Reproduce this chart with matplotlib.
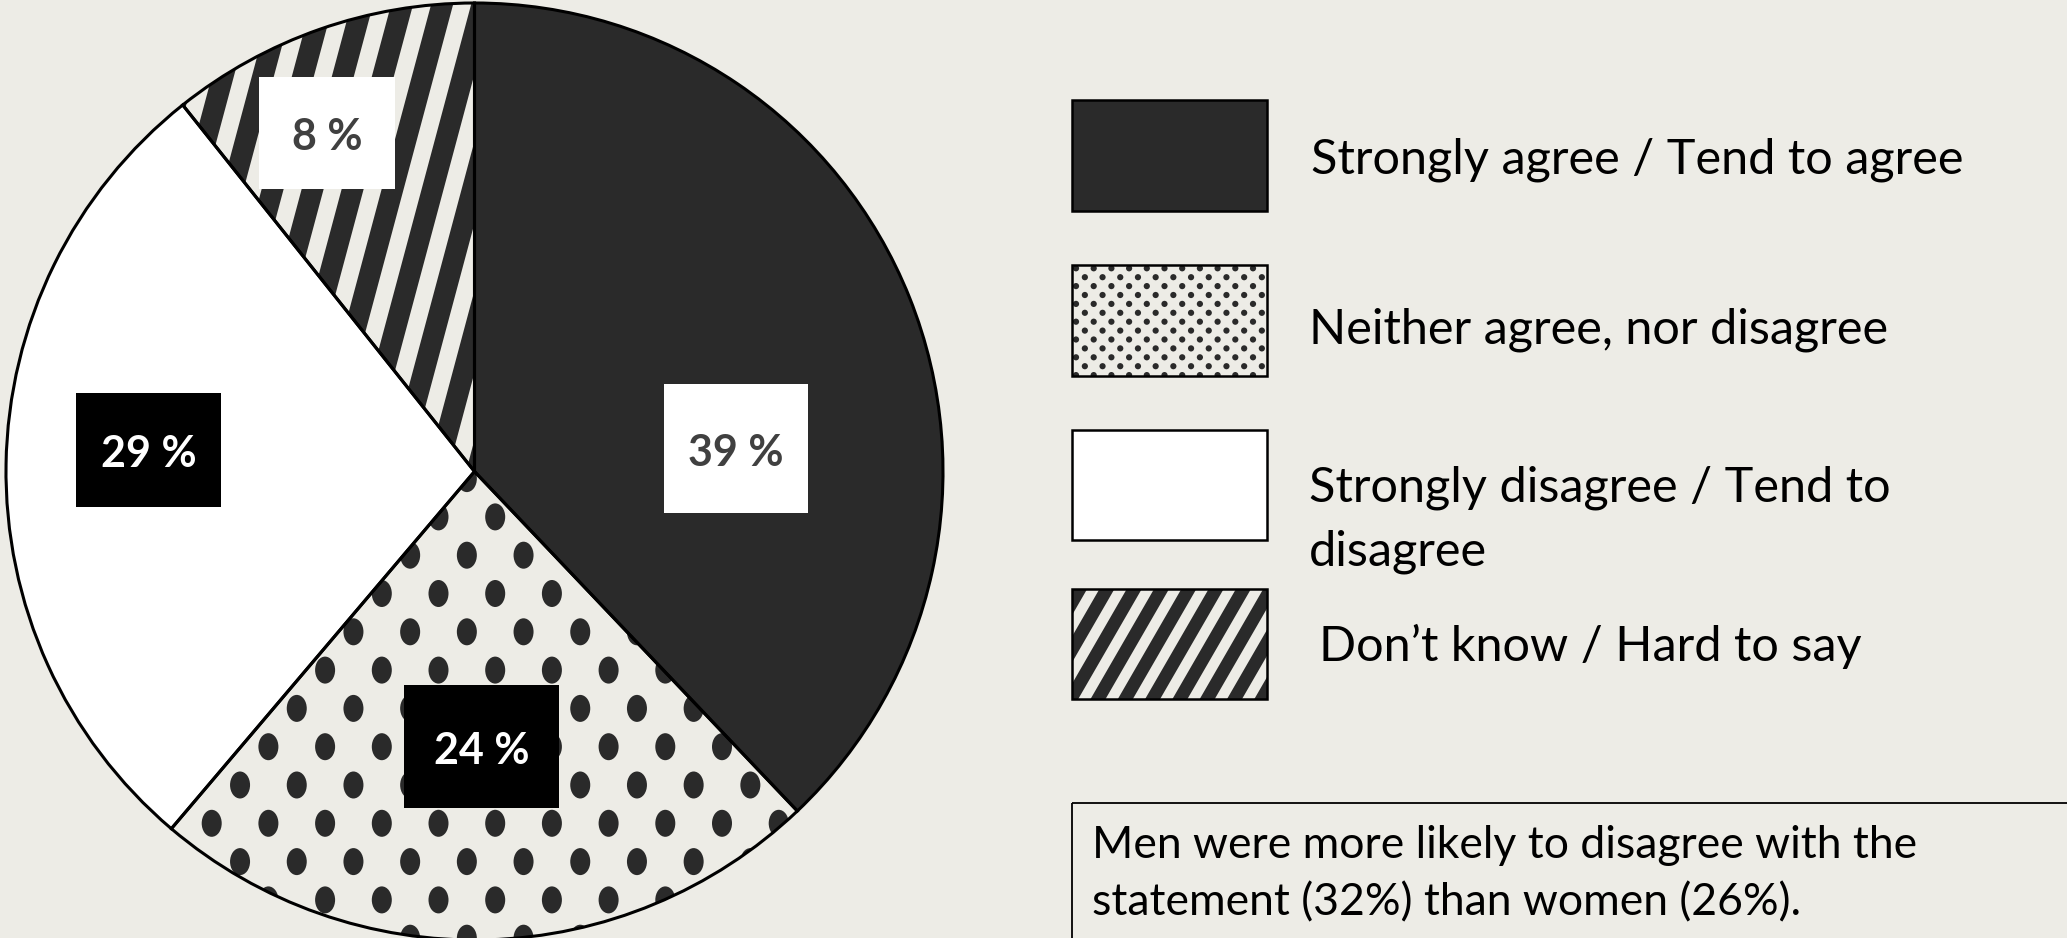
import numpy as np
import matplotlib
matplotlib.use('Agg')
import matplotlib.pyplot as plt
from matplotlib.patches import Rectangle, Polygon, Ellipse, Circle, Wedge

plt.rcParams['font.family'] = ['Lato', 'DejaVu Sans']

# Datos del gráfico (porciones tal como se dibujan y etiquetas)
categorias = ['Strongly agree / Tend to agree',
              'Neither agree, nor disagree',
              'Strongly disagree / Tend to\ndisagree',
              'Don\u2019t know / Hard to say']
porciones = [37.9, 23.3, 28.1, 10.7]
etiquetas = ['39 %', '24 %', '29 %', '8 %']
nota = ['Men were more likely to disagree with the',
        'statement (32%) than women (26%).']

# Colores
fondo = '#EDECE6'
oscuro = '#2A2A2A'
colores = [oscuro, fondo, 'white', fondo]

W, H = 2067, 938
fig = plt.figure(figsize=(W / 100, H / 100), dpi=100, facecolor=fondo)
ax = fig.add_axes([0, 0, 1, 1])
ax.set_facecolor(fondo)

centro = (474.5, 471.5)
radio = 468.5

# eje y invertido: counterclock=True se ve en sentido horario
wedges, _ = ax.pie(porciones, colors=colores, startangle=-90, counterclock=True,
                   center=centro, radius=radio,
                   wedgeprops=dict(edgecolor='none', linewidth=0))
ax.set_xlim(0, W)
ax.set_ylim(H, 0)
ax.set_aspect('equal')
ax.axis('off')


# Textura de rayas dentro de una figura
def rayas(clip, x_ini, periodo, ancho, angulo, y0, y1, n, zorder=2):
    dx = (y1 - y0) / np.tan(np.radians(angulo))
    for k in range(n):
        x0 = x_ini + k * periodo
        p = Polygon([(x0, y0), (x0 + ancho, y0), (x0 + ancho - dx, y1), (x0 - dx, y1)],
                    closed=True, facecolor=oscuro, edgecolor='none', zorder=zorder)
        ax.add_patch(p)
        p.set_clip_path(clip)


# rayas en la porción "no sabe"
x_ini = 463.5 + 11.5 - 40 * 12
rayas(wedges[3], x_ini, 40, 22, 75, -10, 480, 25)

# puntos en la porción "ni de acuerdo ni en desacuerdo"
for j in range(-12, 5):
    y = 823.3 + 38.3 * j
    off = 28.35 if j % 2 else 0
    for k in range(-4, 16):
        x = 211.7 + 56.7 * k + off
        e = Ellipse((x, y), 20, 27, facecolor=oscuro, edgecolor='none', zorder=2)
        ax.add_patch(e)
        e.set_clip_path(wedges[1])

# contornos de las porciones
for w in wedges:
    ax.add_patch(Wedge(w.center, w.r, w.theta1, w.theta2, fill=False,
                       edgecolor='black', linewidth=2.2, zorder=3))

# cuadros de etiquetas
cajas = [(664, 384, 144, 129, 'white', '#404040'),
         (404, 685, 155, 123, 'black', 'white'),
         (76, 393, 145, 114, 'black', 'white'),
         (259, 77, 136, 112, 'white', '#404040')]
for (x, y, w, h, fc, tc), txt in zip(cajas, etiquetas):
    ax.add_patch(Rectangle((x, y), w, h, facecolor=fc, edgecolor='none', zorder=4))
    ax.text(x + w / 2, y + h / 2 + 4, txt, ha='center', va='center', fontsize=31,
            fontweight='bold', color=tc, zorder=5)

# leyenda
cuadros = [(1071.5, 100, 195.5, 111), (1071.5, 265, 195.5, 111),
           (1071.5, 430, 195.5, 110), (1071.5, 589, 195.5, 110)]
rellenos = [oscuro, fondo, 'white', fondo]
leg = []
for (x, y, w, h), c in zip(cuadros, rellenos):
    r = Rectangle((x, y), w, h, facecolor=c, edgecolor='none', zorder=2)
    ax.add_patch(r)
    leg.append(r)

for j in range(13):
    y = 268.3 + 8.9 * j
    off = 8.85 if j % 2 else 0
    for k in range(-1, 13):
        c = Circle((1076 + 17.7 * k + off, y), 3.1, facecolor=oscuro, edgecolor='none', zorder=3)
        ax.add_patch(c)
        c.set_clip_path(leg[1])

rayas(leg[3], 1098.3 - 27.3 * 8 + (591 - 580) / np.tan(np.radians(60)), 27.3, 15, 60,
      580, 710, 20, zorder=3)

for (x, y, w, h) in cuadros:
    ax.add_patch(Rectangle((x, y), w, h, fill=False, edgecolor='black', linewidth=1.8, zorder=4))

bases = [173, 343, 502, 661]
xs = [1311, 1309, 1309, 1319]
for cat, b, x in zip(categorias, bases, xs):
    for i, linea in enumerate(cat.split('\n')):
        ax.text(x, b + 64 * i, linea, ha='left', va='baseline', fontsize=35, color='black')

# nota
ax.add_patch(Rectangle((1071.5, 803), 1100, 200, fill=False, edgecolor='black',
                       linewidth=1.3, zorder=4))
for i, linea in enumerate(nota):
    ax.text(1092, 858 + 57 * i, linea, ha='left', va='baseline', fontsize=32, color='black')

fig.savefig('out.png', dpi=100, facecolor=fondo)
